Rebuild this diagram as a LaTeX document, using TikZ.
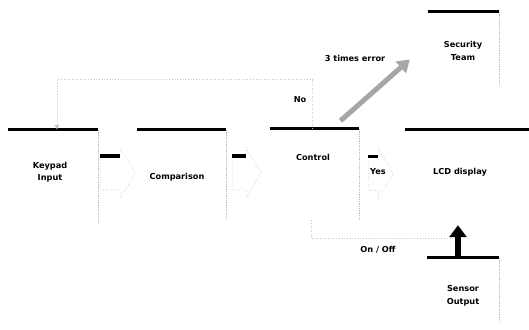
\documentclass[tikz,border=0pt]{standalone}
\usepackage{fontspec}
\setmainfont{DejaVu Sans}
\usetikzlibrary{arrows.meta,calc}
\begin{document}
\begin{tikzpicture}[x=1pt,y=-1pt,
  box/.style={draw=none, inner sep=0pt, rectangle},
  topbar/.style={line width=3.3pt, black},
  sideline/.style={gray!55, densely dotted, line width=0.8pt},
  lbl/.style={font=\bfseries\fontsize{8.2}{12.5}\selectfont, align=center, inner sep=0pt},
  faint/.style={gray!45, dotted, line width=0.7pt},
  errarrow/.style={line width=5pt, gray!70, -{Triangle[length=12pt,width=15pt]}},
  sensarrow/.style={line width=6pt, black, -{Triangle[length=12pt,width=17pt]}}
  ]
\useasboundingbox (0,0) rectangle (529,329);
% boxes
\node[box, minimum width=90pt, minimum height=92pt] (kp) at (53,176) {};
\node[box, minimum width=89pt, minimum height=88pt] (cmp) at (181.5,174) {};
\node[box, minimum width=89pt, minimum height=91pt] (ctl) at (314.5,174.5) {};
\node[box, minimum width=124pt, minimum height=95pt] (lcd) at (467,177.5) {};
\node[box, minimum width=71pt, minimum height=73pt] (sec) at (463.5,48.5) {};
\node[box, minimum width=72pt, minimum height=64pt] (sen) at (463,290) {};
\foreach \b in {kp,cmp,ctl,lcd,sec,sen}{
  \draw[topbar] (\b.north west) -- (\b.north east);
}
\foreach \b in {kp,cmp,ctl,sec,sen}{
  \draw[sideline] (\b.north east) -- (\b.south east);
}
% labels
\node[lbl] (kpt) at (50,172) {Keypad\\Input};
\node[lbl] (cmpt) at (177,177) {Comparison};
\node[lbl] (ctt) at (313,157) {Control};
\node[lbl] (lcdt) at (460,172) {LCD display};
\node[lbl] (sect) at (463,51) {Security\\Team};
\node[lbl] (sent) at (463,296) {Sensor\\Output};
\node[lbl] (yes) at (378,172) {Yes};
\node[lbl] (no) at (300,100) {No};
\node[lbl] (err) at (355,58) {3 times error};
\node[lbl] (onoff) at (378,250) {On / Off};
% block arrows
\coordinate (a1) at ([xshift=2pt,yshift=3pt]kp.east);
\coordinate (a2) at ([xshift=6pt,yshift=1pt]cmp.east);
\coordinate (a3) at ([xshift=9pt,yshift=1pt]ctl.east);
\foreach \a/\s in {a1/20,a2/14,a3/10}{
  \draw[faint] (\a) ++(0,-17) -- ++(\s,0) -- ++(0,-8) -- ++(15,25) -- ++(-15,25) -- ++(0,-8) -- ++(-\s,0) -- cycle;
  \draw[topbar] (\a) ++(0,-17) -- ++(\s,0);
}
% feedback "No"
\draw[faint, -{Latex[length=5pt,width=5pt]}] ([xshift=-2pt]ctl.north) -- ++(0,-49) -| ([xshift=4pt]kp.north);
% 3 times error
\draw[errarrow] ([shift={(26,-8)}]ctl.north) -- ([shift={(-18,11)}]sec.west);
% sensor
\draw[sensarrow] ([xshift=-5pt]sen.north) -- ([xshift=-9pt]lcd.south);
% On / Off
\draw[faint] ([xshift=-3pt]ctl.south) |- ([shift={(-11,-19)}]sen.north);
\end{tikzpicture}
\end{document}
